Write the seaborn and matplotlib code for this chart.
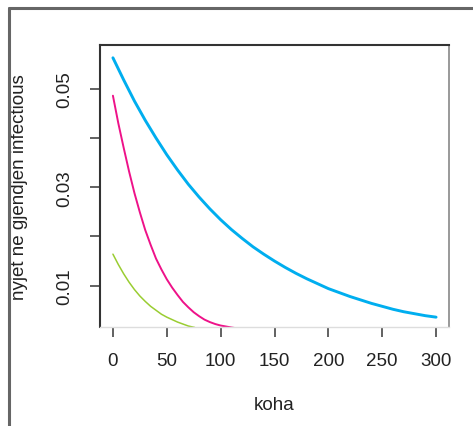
import matplotlib
matplotlib.use("Agg")
import matplotlib.pyplot as plt
from matplotlib.lines import Line2D
import pandas as pd
import seaborn as sns

# Time axis and infectious fraction for each scenario
koha_blue = [0, 10, 20, 30, 40, 50, 60, 70, 80, 90, 100, 110, 120, 130, 140, 150,
             160, 170, 180, 190, 200, 210, 220, 230, 240, 250, 260, 270, 280, 290, 300]
infectious_blue = [0.0563, 0.0518, 0.0475, 0.0436, 0.0400, 0.0366, 0.0335, 0.0306,
                   0.0280, 0.0256, 0.0234, 0.0214, 0.0196, 0.0179, 0.0164, 0.0150,
                   0.0137, 0.0125, 0.0114, 0.0104, 0.0094, 0.0086, 0.0078, 0.0071,
                   0.0064, 0.0058, 0.0052, 0.0047, 0.0043, 0.0039, 0.0036]

koha_pink = [0, 5, 10, 15, 20, 25, 30, 35, 40, 45, 50, 55, 60, 65, 70, 75, 80,
             85, 90, 95, 100, 105, 110, 116]
infectious_pink = [0.0486, 0.0430, 0.0380, 0.0332, 0.0288, 0.0249, 0.0213, 0.0183,
                   0.0155, 0.0133, 0.0113, 0.0096, 0.0081, 0.0067, 0.0056, 0.0046,
                   0.0038, 0.0031, 0.0026, 0.0022, 0.0019, 0.0017, 0.0015, 0.0013]

koha_green = [0, 5, 10, 15, 20, 25, 30, 35, 40, 45, 50, 55, 60, 65, 70, 76]
infectious_green = [0.0164, 0.0143, 0.0124, 0.0107, 0.0092, 0.0079, 0.0068, 0.0058,
                    0.0050, 0.0042, 0.0036, 0.0031, 0.0026, 0.0022, 0.0018, 0.0015]

x_ticks = [0, 50, 100, 150, 200, 250, 300]
y_ticks = [0.01, 0.02, 0.03, 0.04, 0.05]
y_tick_labels = ["0.01", "", "0.03", "", "0.05"]

sns.set_style("white")
plt.rcParams["font.family"] = ["Liberation Sans", "DejaVu Sans"]

FS = 13.5
fig = plt.figure(figsize=(4.73, 4.27), dpi=100)
ax = fig.add_axes([100 / 473, 1 - 328 / 427, 349 / 473, 282 / 427])

series = [
    (koha_blue, infectious_blue, "#00AEEF", 2.1),
    (koha_pink, infectious_pink, "#EE1289", 1.4),
    (koha_green, infectious_green, "#9ACD32", 1.1),
]
for xs, ys, color, lw in series:
    df = pd.DataFrame({"koha": xs, "vlera": ys})
    sns.lineplot(data=df, x="koha", y="vlera", ax=ax, color=color, linewidth=lw,
                 estimator=None, sort=False)

ax.set_xlim(-12, 312)
ax.set_ylim(0.0016, 0.0589)
ax.set_xticks(x_ticks)
ax.set_xticklabels([str(t) for t in x_ticks])
ax.set_yticks(y_ticks)
ax.set_yticklabels(y_tick_labels)

ax.tick_params(axis="both", direction="out", length=7, width=1.3, color="#555555",
               labelsize=FS, labelcolor="#222222")
ax.tick_params(axis="x", bottom=True, pad=11)
ax.tick_params(axis="y", left=True, pad=12, labelrotation=90)
for lbl in ax.get_yticklabels():
    lbl.set_va("center")

ax.set_xlabel("koha", fontsize=FS, color="#222222")
ax.set_ylabel("nyjet ne gjendjen infectious", fontsize=FS, color="#222222")
ax.xaxis.set_label_coords(0.5, -0.245)
ax.yaxis.set_label_coords(-0.205, 0.5)

ax.spines["left"].set_color("#333333")
ax.spines["left"].set_linewidth(1.5)
ax.spines["top"].set_color("#333333")
ax.spines["top"].set_linewidth(1.5)
ax.spines["right"].set_color("#888888")
ax.spines["right"].set_linewidth(1.2)
ax.spines["bottom"].set_color("#dddddd")
ax.spines["bottom"].set_linewidth(1.0)
for s in ax.spines.values():
    s.set_visible(True)

# Window frame along the left and top edges
fig.add_artist(Line2D([8.5 / 473, 8.5 / 473], [0, 1 - 8.5 / 427], color="#666666",
                      linewidth=2.2, transform=fig.transFigure))
fig.add_artist(Line2D([8.5 / 473, 1], [1 - 8.5 / 427, 1 - 8.5 / 427], color="#666666",
                      linewidth=2.2, transform=fig.transFigure))

fig.savefig("out.png", dpi=100)
